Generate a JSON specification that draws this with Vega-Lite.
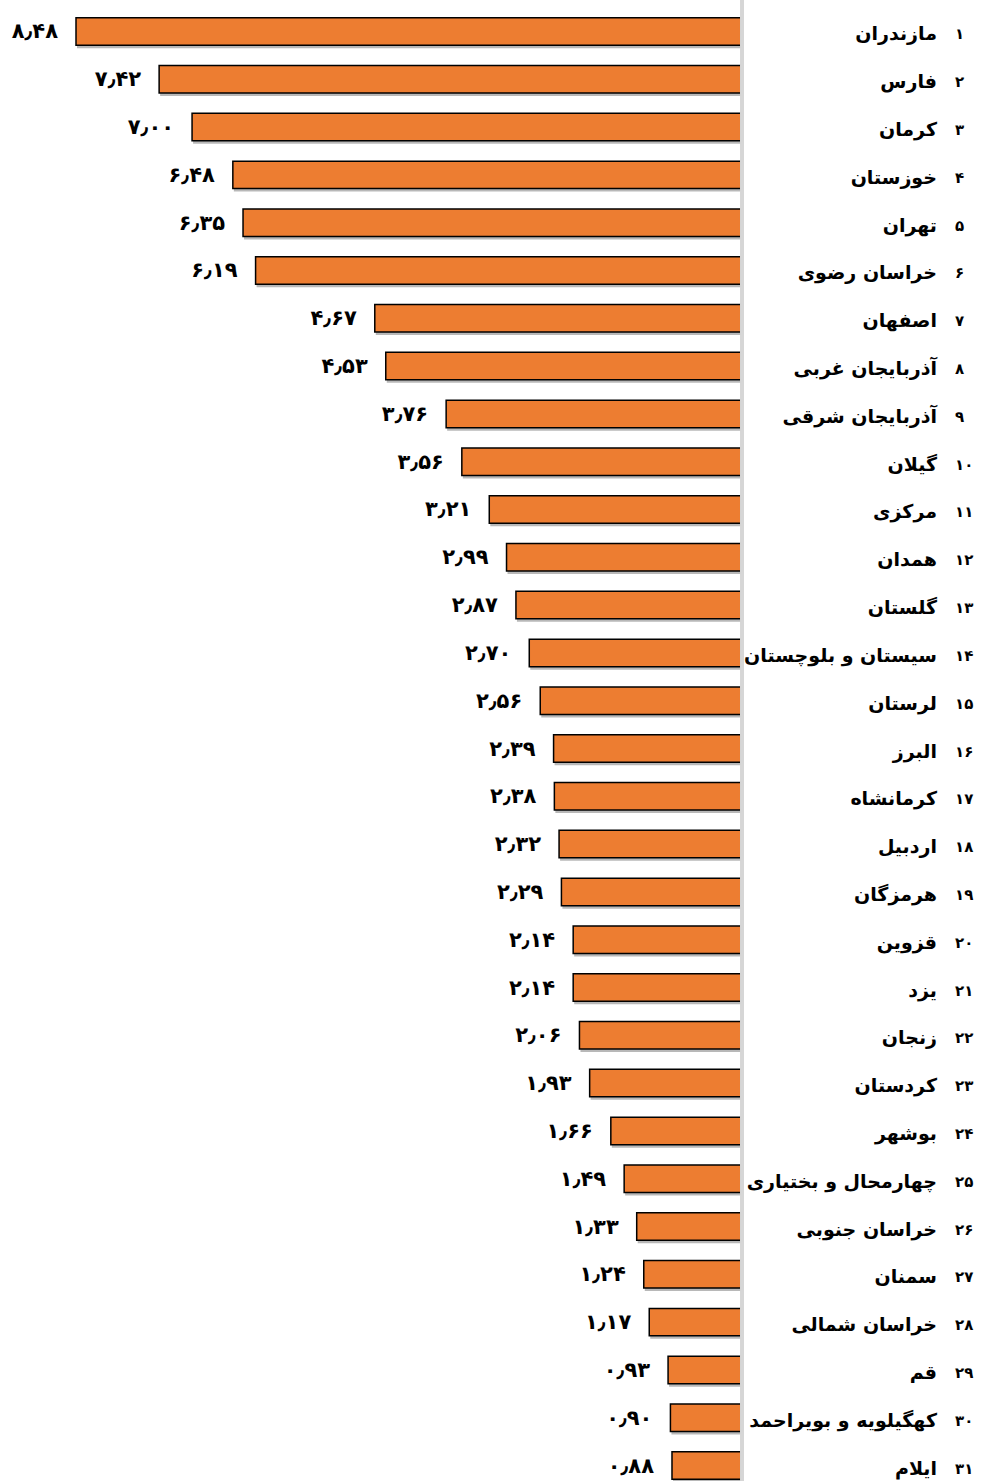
{
  "$schema": "https://vega.github.io/schema/vega-lite/v6.json",
  "width": 983,
  "height": 1481,
  "autosize": {"type": "none"},
  "padding": 0,
  "background": "white",
  "config": {"view": {"stroke": null}},
  "data": {
    "values": [
      {"r": 1, "rank": "۱", "name": "مازندران", "v": 8.48, "label": "۸٫۴۸"},
      {"r": 2, "rank": "۲", "name": "فارس", "v": 7.42, "label": "۷٫۴۲"},
      {"r": 3, "rank": "۳", "name": "کرمان", "v": 7.00, "label": "۷٫۰۰"},
      {"r": 4, "rank": "۴", "name": "خوزستان", "v": 6.48, "label": "۶٫۴۸"},
      {"r": 5, "rank": "۵", "name": "تهران", "v": 6.35, "label": "۶٫۳۵"},
      {"r": 6, "rank": "۶", "name": "خراسان رضوی", "v": 6.19, "label": "۶٫۱۹"},
      {"r": 7, "rank": "۷", "name": "اصفهان", "v": 4.67, "label": "۴٫۶۷"},
      {"r": 8, "rank": "۸", "name": "آذربایجان غربی", "v": 4.53, "label": "۴٫۵۳"},
      {"r": 9, "rank": "۹", "name": "آذربایجان شرقی", "v": 3.76, "label": "۳٫۷۶"},
      {"r": 10, "rank": "۱۰", "name": "گیلان", "v": 3.56, "label": "۳٫۵۶"},
      {"r": 11, "rank": "۱۱", "name": "مرکزی", "v": 3.21, "label": "۳٫۲۱"},
      {"r": 12, "rank": "۱۲", "name": "همدان", "v": 2.99, "label": "۲٫۹۹"},
      {"r": 13, "rank": "۱۳", "name": "گلستان", "v": 2.87, "label": "۲٫۸۷"},
      {"r": 14, "rank": "۱۴", "name": "سیستان و بلوچستان", "v": 2.70, "label": "۲٫۷۰"},
      {"r": 15, "rank": "۱۵", "name": "لرستان", "v": 2.56, "label": "۲٫۵۶"},
      {"r": 16, "rank": "۱۶", "name": "البرز", "v": 2.39, "label": "۲٫۳۹"},
      {"r": 17, "rank": "۱۷", "name": "کرمانشاه", "v": 2.38, "label": "۲٫۳۸"},
      {"r": 18, "rank": "۱۸", "name": "اردبیل", "v": 2.32, "label": "۲٫۳۲"},
      {"r": 19, "rank": "۱۹", "name": "هرمزگان", "v": 2.29, "label": "۲٫۲۹"},
      {"r": 20, "rank": "۲۰", "name": "قزوین", "v": 2.14, "label": "۲٫۱۴"},
      {"r": 21, "rank": "۲۱", "name": "یزد", "v": 2.14, "label": "۲٫۱۴"},
      {"r": 22, "rank": "۲۲", "name": "زنجان", "v": 2.06, "label": "۲٫۰۶"},
      {"r": 23, "rank": "۲۳", "name": "کردستان", "v": 1.93, "label": "۱٫۹۳"},
      {"r": 24, "rank": "۲۴", "name": "بوشهر", "v": 1.66, "label": "۱٫۶۶"},
      {"r": 25, "rank": "۲۵", "name": "چهارمحال و بختیاری", "v": 1.49, "label": "۱٫۴۹"},
      {"r": 26, "rank": "۲۶", "name": "خراسان جنوبی", "v": 1.33, "label": "۱٫۳۳"},
      {"r": 27, "rank": "۲۷", "name": "سمنان", "v": 1.24, "label": "۱٫۲۴"},
      {"r": 28, "rank": "۲۸", "name": "خراسان شمالی", "v": 1.17, "label": "۱٫۱۷"},
      {"r": 29, "rank": "۲۹", "name": "قم", "v": 0.93, "label": "۰٫۹۳"},
      {"r": 30, "rank": "۳۰", "name": "کهگیلویه و بویراحمد", "v": 0.90, "label": "۰٫۹۰"},
      {"r": 31, "rank": "۳۱", "name": "ایلام", "v": 0.88, "label": "۰٫۸۸"}
    ]
  },
  "layer": [
    {
      "mark": {"type": "bar", "fill": "#000000", "opacity": 0.28, "xOffset": 1, "yOffset": 3},
      "encoding": {
        "y": {"field": "r", "type": "ordinal", "axis": null, "scale": {"range": [0, 1497], "paddingInner": 0.425, "paddingOuter": 0.371}},
        "x": {"field": "v", "type": "quantitative", "axis": null, "scale": {"domain": [0, 8.48], "range": [741, 76], "nice": false, "zero": false}}
      }
    },
    {
      "mark": {"type": "bar", "fill": "#ED7D31", "stroke": "#000000", "strokeWidth": 1.5},
      "encoding": {
        "y": {"field": "r", "type": "ordinal", "axis": null, "scale": {"range": [0, 1497], "paddingInner": 0.425, "paddingOuter": 0.371}},
        "x": {"field": "v", "type": "quantitative", "axis": null, "scale": {"domain": [0, 8.48], "range": [741, 76], "nice": false, "zero": false}}
      }
    },
    {
      "mark": {"type": "rule", "color": "#d6d6d6", "strokeWidth": 3},
      "encoding": {
        "x": {"datum": -0.016, "type": "quantitative", "axis": null, "scale": {"domain": [0, 8.48], "range": [741, 76], "nice": false, "zero": false}}
      }
    },
    {
      "mark": {"type": "text", "align": "right", "baseline": "middle", "dx": -18, "dy": 1, "font": "DejaVu Sans", "fontSize": 21, "fontWeight": "bold", "color": "#000000"},
      "encoding": {
        "y": {"field": "r", "type": "ordinal", "axis": null, "scale": {"range": [0, 1497], "paddingInner": 0.425, "paddingOuter": 0.371}},
        "x": {"field": "v", "type": "quantitative", "axis": null, "scale": {"domain": [0, 8.48], "range": [741, 76], "nice": false, "zero": false}},
        "text": {"field": "label"}
      }
    },
    {
      "mark": {"type": "text", "align": "right", "baseline": "middle", "dy": 3, "font": "DejaVu Sans", "fontSize": 19, "fontWeight": "bold", "color": "#000000"},
      "encoding": {
        "y": {"field": "r", "type": "ordinal", "axis": null, "scale": {"range": [0, 1497], "paddingInner": 0.425, "paddingOuter": 0.371}},
        "x": {"datum": -2.499, "type": "quantitative", "axis": null, "scale": {"domain": [0, 8.48], "range": [741, 76], "nice": false, "zero": false}},
        "text": {"field": "name"}
      }
    },
    {
      "mark": {"type": "text", "align": "left", "baseline": "middle", "dy": 3, "font": "DejaVu Sans", "fontSize": 15, "fontWeight": "bold", "color": "#000000"},
      "encoding": {
        "y": {"field": "r", "type": "ordinal", "axis": null, "scale": {"range": [0, 1497], "paddingInner": 0.425, "paddingOuter": 0.371}},
        "x": {"datum": -2.729, "type": "quantitative", "axis": null, "scale": {"domain": [0, 8.48], "range": [741, 76], "nice": false, "zero": false}},
        "text": {"field": "rank"}
      }
    }
  ]
}
